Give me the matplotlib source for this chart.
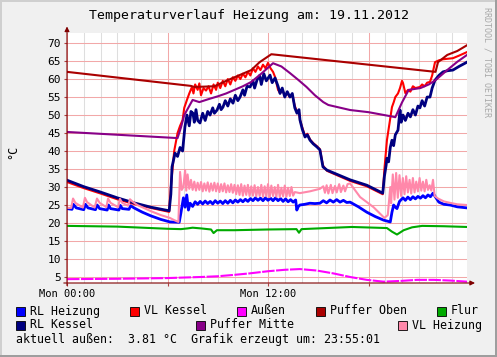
import matplotlib
matplotlib.use("Agg")
import matplotlib.pyplot as plt
from matplotlib.patches import Rectangle

W, H = 497, 357
MONO = "DejaVu Sans Mono"

# hours since Mon 00:00 / temperatures in °C
rl_heizung_t = [0, 0.3, 0.38, 0.55, 1.0, 1.1, 1.25, 1.7, 1.8, 1.95, 2.4, 2.48, 2.6, 3.1, 3.18, 3.3,
                3.7, 3.8, 4.0, 4.5, 5.0, 5.6, 6.15, 6.7, 6.8, 6.95, 7.05, 7.15, 7.25, 7.35, 7.5,
                7.65, 7.8, 7.95, 8.1, 8.25, 8.4, 8.55, 8.7, 8.85, 9.0, 9.15, 9.3, 9.45, 9.6, 9.75,
                9.9, 10.05, 10.2, 10.35, 10.5, 10.65, 10.8, 10.95, 11.1, 11.25, 11.4, 11.55, 11.7,
                11.85, 12.0, 12.15, 12.3, 12.45, 12.6, 12.75, 12.9, 13.05, 13.2, 13.35, 13.5,
                13.65, 13.72, 13.8, 13.9, 14.2, 14.5, 14.8, 15.1, 15.3, 15.5, 15.7, 15.9, 16.1,
                16.3, 16.5, 16.7, 16.9, 17.4, 17.9, 18.4, 18.9, 19.3, 19.4, 19.5, 19.6, 19.7,
                19.85, 20.06, 20.2, 20.35, 20.5, 20.65, 20.8, 20.95, 21.1, 21.25, 21.4, 21.55,
                21.7, 21.85, 22.0, 22.2, 22.5, 22.87, 23.3, 23.88]
rl_heizung = [24.0, 23.8, 25.2, 24.2, 23.7, 25.2, 24.2, 23.7, 25.0, 24.0, 23.6, 25.0, 24.0, 23.6,
              24.9, 24.0, 23.8, 24.8, 24.2, 23.0, 22.0, 21.0, 20.3, 20.2, 22.8, 27.0, 24.4, 27.8,
              23.6, 25.5, 24.6, 25.9, 25.2, 26.0, 25.3, 26.1, 25.4, 26.0, 25.3, 26.2, 25.5, 26.1,
              25.4, 26.2, 25.5, 26.3, 25.6, 26.4, 25.8, 26.5, 25.9, 26.6, 26.0, 26.8, 26.2, 27.0,
              26.3, 26.9, 26.2, 27.0, 26.3, 26.9, 26.2, 27.0, 26.2, 26.8, 26.0, 26.7, 25.9, 26.5,
              25.8, 26.4, 23.6, 24.5, 25.0, 25.2, 25.5, 25.4, 25.5, 26.2, 25.6, 26.4, 25.8, 26.5,
              25.8, 26.3, 25.7, 25.8, 24.5, 23.0, 21.8, 20.8, 20.3, 23.0, 25.0, 24.4, 24.0, 26.0,
              27.0, 26.3, 27.2, 26.5, 27.3, 26.7, 27.4, 26.9, 27.6, 27.0, 27.8, 27.3, 28.3, 27.2,
              25.8, 25.2, 25.0, 24.5, 24.2]

vl_kessel_t = [0, 1, 2, 3, 4, 5, 6.1, 6.2, 6.4, 6.6, 6.75, 6.9, 7.0, 7.16, 7.3, 7.46, 7.55, 7.65,
               7.8, 7.9, 8.0, 8.15, 8.3, 8.45, 8.6, 8.75, 8.9, 9.0, 9.15, 9.3, 9.45, 9.6, 9.75,
               9.9, 10.05, 10.2, 10.35, 10.5, 10.65, 10.8, 10.95, 11.1, 11.25, 11.4, 11.55, 11.7,
               11.85, 12.0, 12.15, 12.3, 12.42, 12.6, 12.72, 12.85, 13.0, 13.15, 13.31, 13.45,
               13.6, 13.73, 13.85, 13.91, 14.05, 14.21, 14.35, 14.51, 14.7, 14.93, 15.1, 15.28,
               15.52, 16.9, 17.9, 18.85, 18.95, 19.1, 19.4, 19.5, 19.6, 19.76, 19.88, 20.0, 20.06,
               20.2, 20.36, 20.5, 20.65, 20.8, 21.07, 21.2, 21.35, 21.5, 21.67, 21.8, 21.97, 22.2,
               22.45, 23.04, 23.4, 23.88]
vl_kessel = [31.4, 29.7, 28.2, 26.6, 25.3, 24.2, 23.1, 30.0, 40.0, 45.0, 47.0, 48.6, 52.0, 54.2,
             56.0, 57.8, 56.0, 58.5, 57.0, 58.8, 55.5, 57.5, 56.8, 58.0, 56.0, 58.5, 57.0, 59.0,
             57.5, 59.5, 58.0, 60.0, 58.5, 60.5, 59.5, 61.0, 60.0, 61.5, 60.5, 62.0, 61.0, 63.0,
             62.0, 63.5, 62.5, 64.0, 63.0, 64.5, 63.0, 62.0, 60.6, 57.0, 56.1, 57.0, 55.5, 56.0,
             55.0, 55.5, 52.5, 51.0, 51.0, 48.6, 46.5, 44.2, 44.8, 43.2, 42.2, 41.3, 40.5, 36.0,
             34.5, 31.7, 30.2, 28.0, 35.0, 43.0, 52.2, 53.5, 55.0, 56.0, 57.5, 59.5, 58.9, 56.1,
             57.0, 56.5, 58.0, 57.5, 57.8, 58.5, 58.0, 59.0, 59.2, 61.0, 64.7, 65.2, 65.5, 65.8,
             66.5, 67.5]

aussen_t = [0, 3, 6, 8, 9, 10, 10.9, 12, 13, 13.9, 14.9, 15.9, 16.9, 17.9, 18.9, 19.9, 20.9,
            21.9, 22.9, 23.88]
aussen = [4.4, 4.5, 4.7, 5.0, 5.2, 5.6, 6.0, 6.6, 7.0, 7.2, 6.8, 6.0, 5.0, 4.2, 3.7, 3.9, 4.2,
          4.2, 4.0, 3.7]

puffer_oben_t = [0, 7.4, 7.6, 8.8, 9.5, 10.3, 11.0, 11.5, 12.2, 22.0, 22.15, 22.7, 23.3, 23.88]
puffer_oben = [62.0, 58.1, 57.8, 58.0, 59.5, 61.1, 62.5, 64.7, 66.9, 62.0, 64.7, 66.7, 67.8, 69.4]

flur_t = [0, 3, 6, 6.8, 7.2, 7.5, 8.0, 8.6, 8.75, 8.95, 10.0, 12.0, 13.7, 13.85, 14.0, 15.5, 17.0,
          19.1, 19.4, 19.7, 20.1, 20.6, 21.2, 22.5, 23.88]
flur = [19.2, 19.0, 18.4, 18.3, 18.5, 18.7, 18.5, 18.2, 17.2, 18.0, 18.0, 18.2, 18.3, 17.3, 18.3,
        18.6, 18.9, 18.6, 17.6, 16.8, 18.0, 18.8, 19.2, 19.1, 18.9]

rl_kessel_t = [0, 1, 2, 3, 4, 5, 6.1, 6.2, 6.27, 6.45, 6.6, 6.75, 6.9, 7.04, 7.16, 7.3, 7.4, 7.52,
               7.6, 7.7, 7.8, 7.94, 8.1, 8.25, 8.4, 8.54, 8.7, 8.8, 8.96, 9.1, 9.2, 9.31, 9.45,
               9.6, 9.75, 9.91, 10.05, 10.2, 10.33, 10.5, 10.6, 10.75, 10.93, 11.1, 11.2, 11.34,
               11.5, 11.6, 11.75, 11.9, 12.12, 12.25, 12.42, 12.6, 12.72, 12.85, 13.0, 13.15,
               13.31, 13.45, 13.6, 13.73, 13.85, 13.91, 14.05, 14.21, 14.35, 14.51, 14.7, 14.93,
               15.1, 15.28, 15.52, 16.9, 17.9, 18.85, 18.95, 19.05, 19.1, 19.2, 19.3, 19.4, 19.5,
               19.6, 19.76, 19.88, 19.95, 20.06, 20.2, 20.36, 20.5, 20.65, 20.8, 20.95, 21.07,
               21.2, 21.35, 21.5, 21.67, 21.8, 21.97, 22.2, 22.45, 22.7, 23.04, 23.4, 23.88]
rl_kessel = [31.9, 30.1, 28.6, 27.0, 25.6, 24.4, 23.4, 28.0, 35.6, 39.4, 38.5, 41.0, 40.0, 46.7,
             50.0, 47.0, 51.0, 50.5, 48.0, 51.5, 48.5, 47.8, 50.5, 48.5, 51.0, 50.0, 52.0, 50.5,
             51.4, 53.0, 51.5, 52.2, 54.0, 52.5, 54.5, 53.3, 55.5, 54.0, 55.0, 57.0, 55.5, 58.0,
             57.8, 59.5, 57.5, 59.7, 61.0, 58.5, 61.5, 59.5, 61.1, 59.0, 60.3, 58.0, 56.0, 57.5,
             55.0, 56.5, 55.0, 56.0, 52.0, 50.5, 51.5, 48.6, 46.0, 43.9, 44.5, 43.0, 42.0, 41.1,
             40.3, 35.6, 34.7, 32.0, 30.5, 28.3, 33.0, 36.0, 38.0, 37.0, 41.0, 43.0, 41.5, 44.5,
             45.8, 51.4, 48.0, 50.0, 48.5, 50.5, 49.5, 51.5, 50.0, 52.5, 52.0, 54.0, 52.5, 55.0,
             55.0, 57.5, 59.7, 61.0, 62.0, 62.3, 62.5, 63.5, 64.7]

puffer_mitte_t = [0, 6.6, 6.8, 7.0, 7.5, 7.9, 8.5, 9.0, 9.5, 10.0, 10.5, 11.0, 11.6, 12.3, 12.8,
                  13.3, 13.8, 14.3, 14.8, 15.3, 15.6, 16.9, 18.0, 19.4, 19.6, 20.0, 20.4, 21.1,
                  21.6, 22.0, 22.7, 23.3, 23.88]
puffer_mitte = [45.3, 43.6, 46.5, 50.0, 54.2, 53.6, 54.5, 55.2, 56.0, 57.0, 58.0, 59.2, 61.5,
                64.4, 63.5, 61.7, 59.8, 57.8, 55.5, 53.6, 52.8, 51.4, 50.8, 49.6, 49.4, 53.5,
                57.0, 57.5, 58.5, 59.7, 62.5, 64.8, 66.7]

vl_heizung_t = [0, 0.25, 0.36, 0.5, 0.95, 1.07, 1.2, 1.65, 1.79, 1.95, 2.35, 2.45, 2.6, 3.05,
                3.16, 3.3, 3.65, 3.76, 3.9, 4.2, 5.0, 5.6, 6.15, 6.4, 6.65, 6.75, 6.85, 6.95,
                7.05, 7.12, 7.2, 7.3, 7.4, 7.5, 7.6, 7.7, 7.8, 7.9, 8.0, 8.1, 8.2, 8.3, 8.4, 8.5,
                8.6, 8.7, 8.8, 8.9, 9.0, 9.1, 9.2, 9.3, 9.4, 9.5, 9.6, 9.7, 9.8, 9.9, 10.0, 10.1,
                10.2, 10.3, 10.4, 10.5, 10.6, 10.7, 10.8, 10.9, 11.0, 11.1, 11.2, 11.3, 11.4,
                11.5, 11.6, 11.7, 11.8, 11.9, 12.0, 12.1, 12.2, 12.3, 12.4, 12.5, 12.6, 12.7,
                12.8, 12.9, 13.0, 13.1, 13.2, 13.3, 13.4, 13.5, 13.6, 13.9, 14.5, 15.1, 15.3,
                15.4, 15.5, 15.6, 15.75, 15.85, 16.0, 16.1, 16.25, 16.35, 16.5, 16.6, 16.75,
                16.9, 17.5, 18.3, 18.95, 19.15, 19.3, 19.35, 19.45, 19.55, 19.65, 19.75, 19.85,
                19.95, 20.05, 20.15, 20.25, 20.35, 20.45, 20.55, 20.65, 20.75, 20.85, 20.95,
                21.05, 21.15, 21.25, 21.35, 21.45, 21.55, 21.65, 21.75, 21.85, 21.95, 22.15,
                22.5, 22.87, 23.3, 23.88]
vl_heizung = [24.2, 24.2, 26.8, 25.6, 24.3, 27.0, 25.8, 24.3, 26.8, 25.6, 24.4, 26.8, 25.6, 24.4,
              26.7, 25.6, 24.8, 26.6, 26.0, 25.0, 23.3, 22.2, 21.4, 20.8, 20.3, 34.2, 29.2, 30.0,
              34.7, 29.0, 33.5, 29.5, 32.0, 29.2, 31.5, 29.0, 31.2, 29.2, 31.4, 28.8, 31.0, 29.0,
              31.3, 28.7, 31.0, 29.0, 31.2, 28.8, 31.0, 28.6, 30.8, 28.8, 31.0, 28.5, 30.5, 28.6,
              30.8, 28.4, 30.6, 28.0, 30.5, 27.8, 30.8, 27.6, 30.4, 27.8, 30.6, 27.5, 30.2, 27.6,
              30.5, 27.4, 30.0, 27.5, 30.6, 27.3, 30.2, 27.4, 30.8, 27.2, 30.4, 27.5, 30.0, 27.3,
              30.6, 27.2, 29.8, 27.4, 30.4, 27.3, 29.8, 27.5, 30.0, 27.6, 28.6, 28.3, 28.8, 29.5,
              30.2, 28.4, 30.5, 28.2, 30.6, 28.3, 30.3, 28.5, 30.8, 28.6, 30.4, 28.8, 30.8, 31.0,
              27.2, 24.4, 21.4, 22.2, 30.0, 25.5, 33.5, 26.5, 33.9, 27.0, 33.3, 27.5, 32.5, 28.0,
              33.0, 28.5, 32.0, 28.2, 32.5, 28.5, 31.5, 28.8, 32.5, 29.0, 31.5, 28.8, 32.0, 29.2,
              30.5, 29.0, 32.0, 27.5, 26.8, 26.0, 25.6, 25.2, 25.0]

y_ticks = [5, 10, 15, 20, 25, 30, 35, 40, 45, 50, 55, 60, 65, 70]
x_labels = ["Mon 00:00", "Mon 12:00"]

# (name, times, values, colour, width) in the rrdtool draw order
series = [
    ("RL Heizung", rl_heizung_t, rl_heizung, "#0000FF", 2.0),
    ("VL Kessel", vl_kessel_t, vl_kessel, "#FF0000", 1.5),
    ("Außen", aussen_t, aussen, "#FF00FF", 1.5),
    ("Puffer Oben", puffer_oben_t, puffer_oben, "#AA0000", 1.5),
    ("Flur", flur_t, flur, "#00AA00", 1.5),
    ("RL Kessel", rl_kessel_t, rl_kessel, "#000080", 2.0),
    ("Puffer Mitte", puffer_mitte_t, puffer_mitte, "#880088", 1.5),
    ("VL Heizung", vl_heizung_t, vl_heizung, "#FF88AA", 1.5),
]


def fx(px):
    return px / W


def fy(py):
    return 1 - py / H


fig = plt.figure(figsize=(W / 100, H / 100), dpi=100, facecolor="#F0F0F0")
ax = fig.add_axes([fx(67), fy(283), fx(400), 250 / H])
ax.set_facecolor("white")

for name, t, v, col, lw in series:
    if name == "Außen":
        ax.plot(t, v, color=col, lw=lw, dashes=(6, 0.7), solid_capstyle="butt")
    else:
        ax.plot(t, v, color=col, lw=lw)

ax.set_xlim(0, 23.88)
ax.set_ylim(3.33, 72.8)

ax.set_yticks(y_ticks)
ax.set_yticklabels([str(y) for y in y_ticks], family=MONO, fontsize=8)
ax.set_xticks([0, 6, 12, 18])
ax.set_xticklabels([x_labels[0], "", x_labels[1], ""], family=MONO, fontsize=7.5)
ax.set_xticks(range(0, 24), minor=True)
ax.tick_params(axis="both", which="major", length=2.5, width=0.8, color="#B04040", pad=2)
ax.tick_params(axis="x", which="minor", length=0)
ax.grid(which="minor", axis="x", color="#DEDEDE", lw=0.75, zorder=0)
ax.grid(which="major", axis="x", color="#F2A8A8", lw=0.75, zorder=0)
ax.grid(which="major", axis="y", color="#F2A8A8", lw=0.75, zorder=0)
ax.set_axisbelow(True)
for s in ax.spines.values():
    s.set_visible(False)

# axes with arrows
arrow = dict(arrowstyle="-|>", color="#7F0000", lw=0.8, mutation_scale=7, shrinkA=0, shrinkB=0)
ax.annotate("", xy=(0, 1.026), xytext=(0, -0.01), xycoords="axes fraction", arrowprops=arrow)
ax.annotate("", xy=(1.02, 0), xytext=(-0.008, 0), xycoords="axes fraction", arrowprops=arrow)

fig.text(fx(249), fy(16), "Temperaturverlauf Heizung am: 19.11.2012", family=MONO,
         fontsize=9.5, ha="center", va="center")
fig.text(fx(13), fy(152), "°C", family=MONO, fontsize=8.5, rotation=90, ha="center", va="center")
fig.text(fx(487), fy(62), "RRDTOOL / TOBI OETIKER", family=MONO, fontsize=6, color="#A8A8A8",
         rotation=270, ha="center", va="center")

# legend as rrdtool prints it
legend_pos = {
    "RL Heizung": (16, 311), "VL Kessel": (130, 311), "Außen": (237, 311),
    "Puffer Oben": (316, 311), "Flur": (437, 311), "RL Kessel": (16, 325),
    "Puffer Mitte": (196, 325), "VL Heizung": (398, 325),
}
for name, t, v, col, lw in series:
    px, py = legend_pos[name]
    fig.add_artist(Rectangle((fx(px), fy(py + 4.5)), fx(9), 9 / H, transform=fig.transFigure,
                             facecolor=col, edgecolor="black", lw=0.6))
    fig.text(fx(px + 14), fy(py), name, family=MONO, fontsize=8.4, ha="left", va="center")
fig.text(fx(16), fy(339), "aktuell außen:  3.81 °C  Grafik erzeugt um: 23:55:01", family=MONO,
         fontsize=8.4, ha="left", va="center")

# frame shading
fig.add_artist(Rectangle((0, fy(2)), 1, 2 / H, transform=fig.transFigure, color="#CFCFCF", lw=0))
fig.add_artist(Rectangle((0, 0), fx(2), 1, transform=fig.transFigure, color="#CFCFCF", lw=0))
fig.add_artist(Rectangle((0, 0), 1, 2 / H, transform=fig.transFigure, color="#9E9E9E", lw=0))
fig.add_artist(Rectangle((fx(495), 0), fx(2), 1, transform=fig.transFigure, color="#9E9E9E", lw=0))

fig.savefig("out.png", dpi=100, facecolor=fig.get_facecolor())
